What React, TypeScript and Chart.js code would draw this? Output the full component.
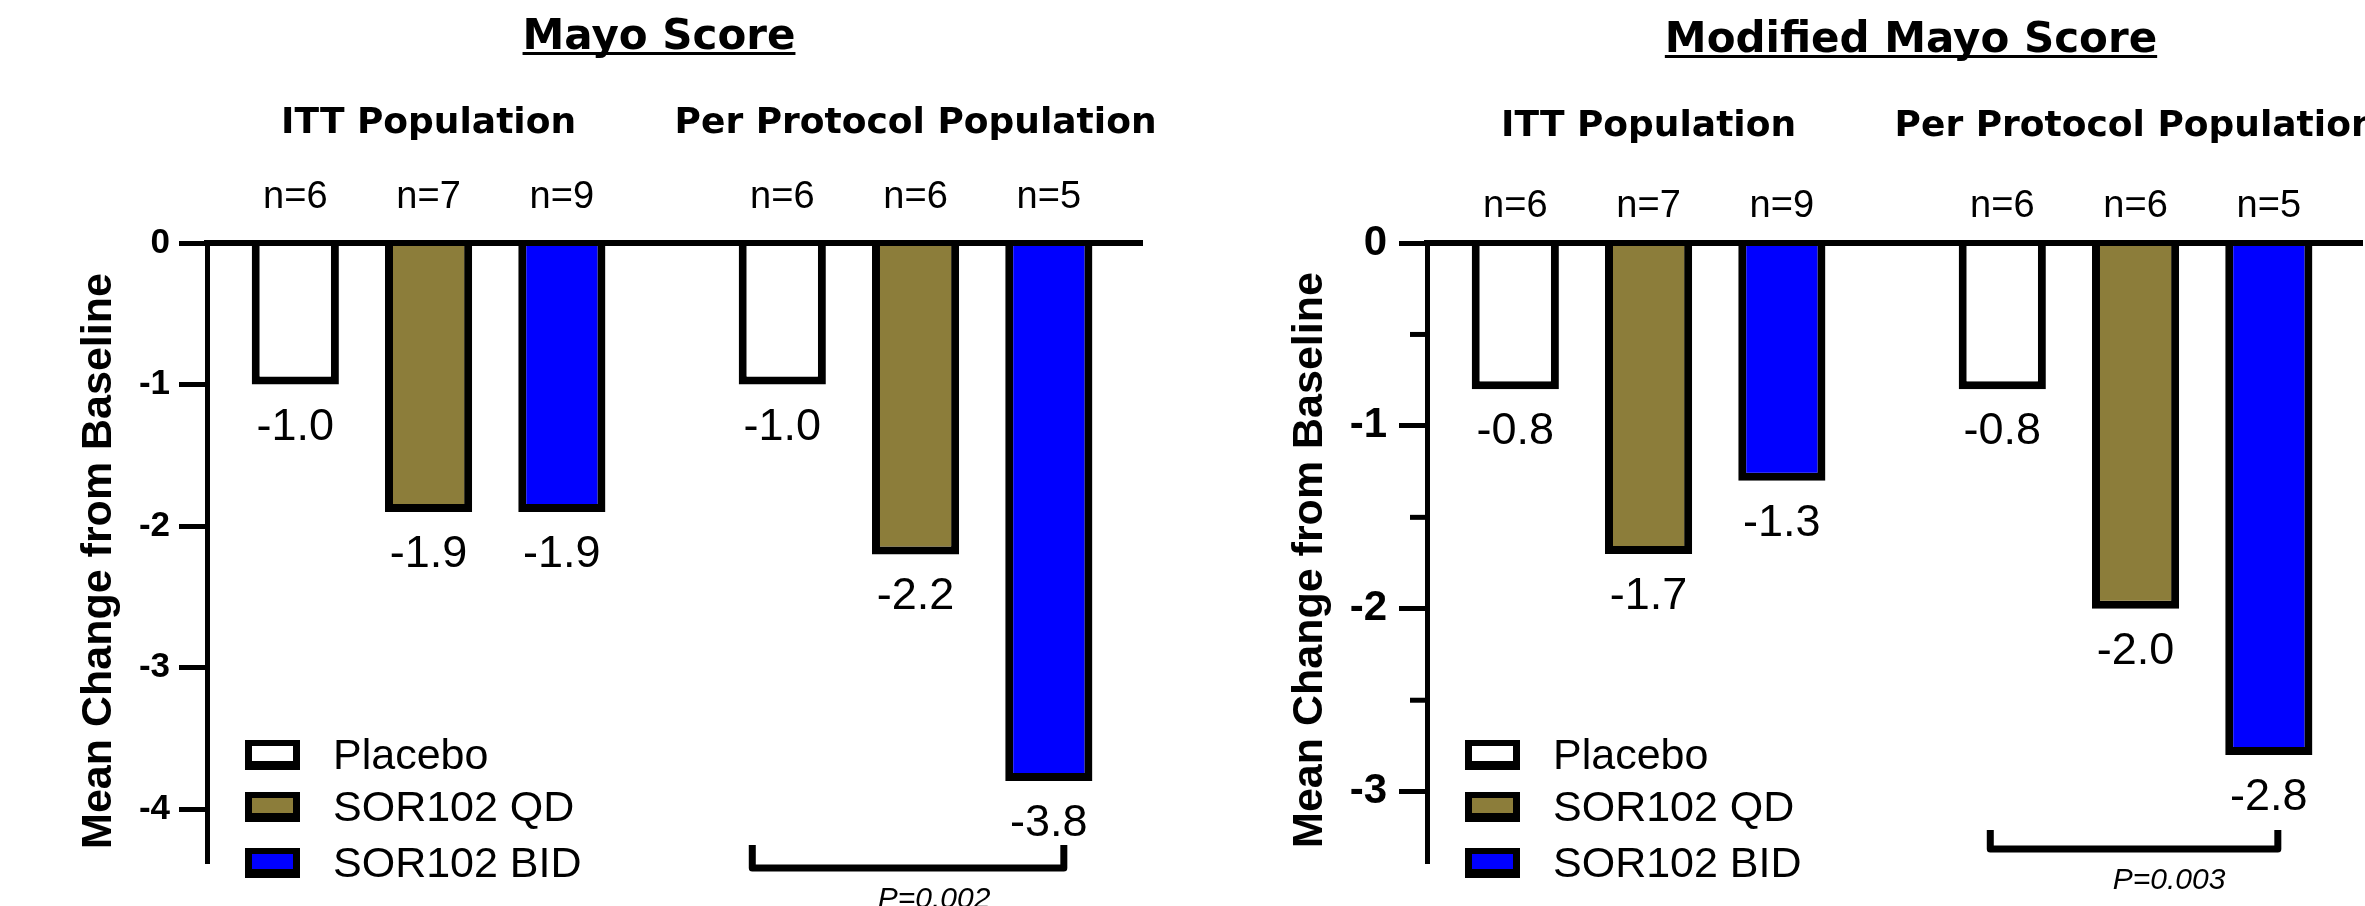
import React, { useEffect, useRef } from 'react';
import { Chart, registerables } from 'chart.js';

Chart.register(...registerables);

// ---------- data ----------
const groups = ['ITT Population', 'Per Protocol Population'];
const treatments = ['Placebo', 'SOR102 QD', 'SOR102 BID'];

const mayoPlacebo = [-1.0, -1.0];
const mayoQD = [-1.9, -2.2];
const mayoBID = [-1.9, -3.8];

const modPlacebo = [-0.8, -0.8];
const modQD = [-1.7, -2.0];
const modBID = [-1.3, -2.8];

const nPlacebo = [6, 6];
const nQD = [7, 6];
const nBID = [9, 5];

const mayoPValue = 'P=0.002';
const modPValue = 'P=0.003';

// ---------- styles ----------
const fillColors = ['#FFFFFF', '#8C7D3A', '#0000FF'];
const SANS = '"Liberation Sans", Arial, sans-serif';
const HEAD = '"DejaVu Sans", "Liberation Sans", sans-serif';

type PanelCfg = {
  left: number;
  width: number;
  title: string;
  values: number[][];
  counts: number[][];
  pText: string;
  yMin: number;
  yAxisWidth: number;
  padRight: number;
  tickSize: number;
  tickPadding: number;
  minor: boolean;
  titleX: number;
  titleBase: number;
  groupBase: number;
  nBase: number;
  yTitleX: number;
  yTitleY: number;
  brLeft: number;
  brRight: number;
  brTop: number;
  brBottom: number;
  pY: number;
  pDx: number;
};

const panels: PanelCfg[] = [
  {
    left: 0,
    width: 1180,
    title: 'Mayo Score',
    values: [mayoPlacebo, mayoQD, mayoBID],
    counts: [nPlacebo, nQD, nBID],
    pText: mayoPValue,
    yMin: -4.38,
    yAxisWidth: 207,
    padRight: 38,
    tickSize: 35,
    tickPadding: 9,
    minor: false,
    titleX: 659,
    titleBase: 49,
    groupBase: 133,
    nBase: 208,
    yTitleX: 99,
    yTitleY: 561,
    brLeft: -30,
    brRight: 15,
    brTop: 845,
    brBottom: 868,
    pY: 900,
    pDx: 26,
  },
  {
    left: 1180,
    width: 1185,
    title: 'Modified Mayo Score',
    values: [modPlacebo, modQD, modBID],
    counts: [nPlacebo, nQD, nBID],
    pText: modPValue,
    yMin: -3.39,
    yAxisWidth: 247,
    padRight: 3,
    tickSize: 42,
    tickPadding: 12,
    minor: true,
    titleX: 731,
    titleBase: 52,
    groupBase: 136,
    nBase: 217,
    yTitleX: 130,
    yTitleY: 560,
    brLeft: -12,
    brRight: 9,
    brTop: 830,
    brBottom: 849,
    pY: 881,
    pDx: 35,
  },
];

const overlayPlugin = {
  id: 'overlay',
  afterDraw(chart: any, _args: any, opts: any) {
    const p: PanelCfg = opts.panel;
    const ctx: CanvasRenderingContext2D = chart.ctx;
    const area = chart.chartArea;
    const xs = chart.scales.x;
    const ys = chart.scales.y;
    ctx.save();
    ctx.fillStyle = '#000';
    ctx.strokeStyle = '#000';

    // main title, underlined
    ctx.font = `bold 42px ${HEAD}`;
    ctx.textAlign = 'center';
    ctx.textBaseline = 'alphabetic';
    ctx.fillText(p.title, p.titleX, p.titleBase);
    const tw = ctx.measureText(p.title).width;
    ctx.fillRect(p.titleX - tw / 2, p.titleBase + 3, tw, 3);

    // group titles
    ctx.font = `bold 36px ${HEAD}`;
    groups.forEach((g, i) => {
      ctx.fillText(g, xs.getPixelForValue(i), p.groupBase);
    });

    // n labels + value labels
    chart.data.datasets.forEach((_ds: any, d: number) => {
      const meta = chart.getDatasetMeta(d);
      meta.data.forEach((bar: any, i: number) => {
        ctx.font = `38px ${SANS}`;
        ctx.fillText('n=' + p.counts[d][i], bar.x, p.nBase);
        ctx.font = `45px ${SANS}`;
        ctx.fillText(p.values[d][i].toFixed(1), bar.x, bar.y + 55);
      });
    });

    // y-axis title
    ctx.save();
    ctx.translate(p.yTitleX, p.yTitleY);
    ctx.rotate(-Math.PI / 2);
    ctx.font = `bold 43px ${SANS}`;
    ctx.textBaseline = 'middle';
    ctx.fillText('Mean Change from Baseline', 0, 0);
    ctx.restore();

    // minor ticks
    if (p.minor) {
      ctx.lineWidth = 5;
      const t = ys.ticks.map((k: any) => k.value).sort((a: number, b: number) => a - b);
      for (let i = 0; i < t.length - 1; i++) {
        const y = ys.getPixelForValue((t[i] + t[i + 1]) / 2);
        ctx.beginPath();
        ctx.moveTo(area.left - 17, y);
        ctx.lineTo(area.left, y);
        ctx.stroke();
      }
    }

    // legend
    const rows = [769, 821, 877];
    chart.data.datasets.forEach((ds: any, d: number) => {
      const bx = area.left + 38;
      const by = rows[d] - 29;
      ctx.fillStyle = '#000';
      ctx.fillRect(bx, by, 55, 30);
      ctx.fillStyle = ds.backgroundColor;
      ctx.fillRect(bx + 7, by + 6, 55 - 14, 30 - 15);
      ctx.fillStyle = '#000';
      ctx.font = `43px ${SANS}`;
      ctx.textAlign = 'left';
      ctx.fillText(ds.label, area.left + 126, rows[d]);
    });

    // significance bracket
    const m0 = chart.getDatasetMeta(0).data[1];
    const m2 = chart.getDatasetMeta(2).data[1];
    const x1 = m0.x + p.brLeft;
    const x2 = m2.x + p.brRight;
    ctx.lineWidth = 7;
    ctx.lineJoin = 'round';
    ctx.beginPath();
    ctx.moveTo(x1, p.brTop);
    ctx.lineTo(x1, p.brBottom);
    ctx.lineTo(x2, p.brBottom);
    ctx.lineTo(x2, p.brTop);
    ctx.stroke();
    ctx.font = `italic 30px ${SANS}`;
    ctx.textAlign = 'center';
    ctx.textBaseline = 'middle';
    ctx.fillText(p.pText, (x1 + x2) / 2 + p.pDx, p.pY);

    ctx.restore();
  },
};

function buildConfig(p: PanelCfg): any {
  return {
    type: 'bar',
    data: {
      datasets: treatments.map((t, d) => ({
        label: t,
        data: p.values[d].map((v, i) => ({ x: i, y: v })),
        backgroundColor: fillColors[d],
        borderColor: '#000',
        borderWidth: 8,
        borderSkipped: 'start',
        categoryPercentage: 0.821,
        barPercentage: 0.654,
      })),
    },
    options: {
      responsive: false,
      animation: false,
      layout: { padding: { left: 0, top: 243, right: p.padRight, bottom: 43 } },
      plugins: {
        legend: { display: false },
        tooltip: { enabled: false },
        title: { display: false },
        overlay: { panel: p },
      },
      scales: {
        x: {
          type: 'linear',
          position: 'top',
          min: -0.455,
          max: 1.465,
          offset: false,
          grid: { display: false },
          ticks: { display: false },
          border: { display: true, width: 6, color: '#000', z: 1 },
          afterBuildTicks: (s: any) => {
            s.ticks = groups.map((_g, i) => ({ value: i }));
          },
          afterFit: (s: any) => {
            s.height = 0;
          },
        },
        y: {
          type: 'linear',
          min: p.yMin,
          max: 0,
          ticks: {
            stepSize: 1,
            includeBounds: false,
            color: '#000',
            padding: p.tickPadding,
            font: { family: SANS, size: p.tickSize, weight: 'bold' },
          },
          grid: {
            drawOnChartArea: false,
            drawTicks: true,
            tickLength: 28,
            tickWidth: 5,
            tickColor: '#000',
          },
          border: { display: true, width: 5, color: '#000', z: 1 },
          afterFit: (s: any) => {
            s.width = p.yAxisWidth;
          },
        },
      },
    },
    plugins: [overlayPlugin],
  };
}

function Panel({ cfg }: { cfg: PanelCfg }) {
  const ref = useRef<HTMLCanvasElement>(null);
  useEffect(() => {
    const chart = new Chart(ref.current as HTMLCanvasElement, buildConfig(cfg));
    return () => chart.destroy();
  }, [cfg]);
  return (
    <canvas
      ref={ref}
      width={cfg.width}
      height={906}
      style={{ position: 'absolute', left: cfg.left, top: 0, width: cfg.width, height: 906 }}
    />
  );
}

export default function App() {
  return (
    <div style={{ position: 'absolute', left: 0, top: 0, width: 2365, height: 906, background: '#fff', overflow: 'hidden' }}>
      {panels.map((p) => (
        <Panel key={p.title} cfg={p} />
      ))}
    </div>
  );
}
